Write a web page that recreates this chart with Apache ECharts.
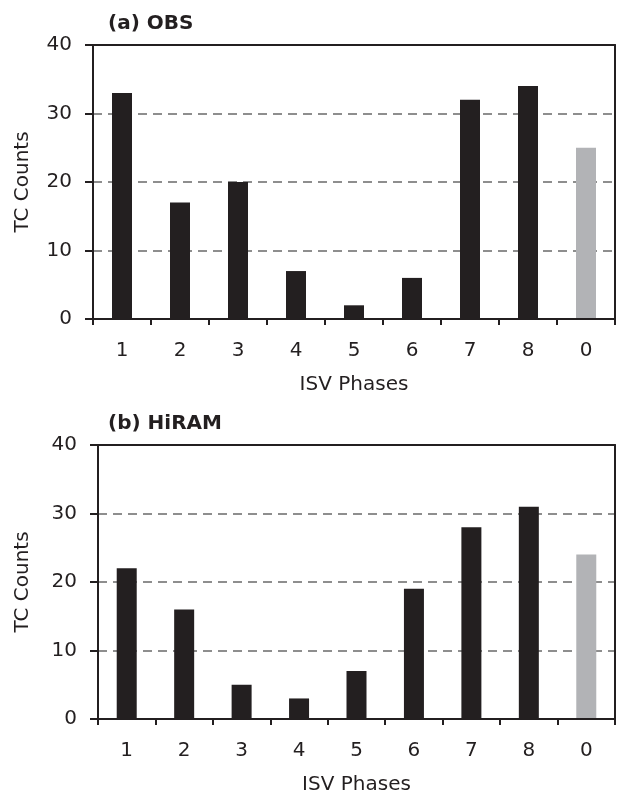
<!DOCTYPE html>
<html>
<head>
<meta charset="utf-8">
<script src="https://cdn.jsdelivr.net/npm/echarts@6/dist/echarts.min.js"></script>
<style>html,body{margin:0;padding:0;background:#fff}#c{width:620px;height:796px}</style>
</head>
<body>
<div id="c"></div>
<script>
var phases = ['1','2','3','4','5','6','7','8','0'];
var obsCounts = [33, 17, 20, 7, 2, 6, 32, 34, 25];
var hiramCounts = [22, 16, 5, 3, 7, 19, 28, 31, 24];
var yTicks = [0, 10, 20, 30, 40];
var titles = ['(a) OBS', '(b) HiRAM'];

var FONT = 'DejaVu Sans';
var BLACK = '#231f20';
var GRAY_BAR = '#b2b3b6';

function barData(vals) {
  return vals.map(function (v, i) {
    return { value: v, itemStyle: { color: phases[i] === '0' ? GRAY_BAR : BLACK } };
  });
}

var grids = [
  { left: 93, right: 5, top: 45, height: 274 },
  { left: 98, right: 5, top: 445, height: 274 }
];

function xAxisCfg(idx) {
  return {
    type: 'category', gridIndex: idx, data: phases, boundaryGap: true,
    name: 'ISV Phases', nameLocation: 'middle', nameGap: 56,
    nameTextStyle: { fontFamily: FONT, fontSize: 20, color: BLACK },
    axisLine: { onZero: false, lineStyle: { color: BLACK, width: 2 } },
    axisTick: { show: true, length: 6, lineStyle: { color: BLACK, width: 2 } },
    axisLabel: { fontFamily: FONT, fontSize: 20, color: BLACK, margin: 22 },
    splitLine: { show: false }, z: 5
  };
}
function xTopCfg(idx) {
  return {
    type: 'category', gridIndex: idx, data: phases, position: 'top',
    axisLine: { show: true, onZero: false, lineStyle: { color: BLACK, width: 2 } },
    axisTick: { show: false }, axisLabel: { show: false }, splitLine: { show: false }, z: 5
  };
}
function yAxisCfg(idx, gap) {
  return {
    type: 'value', gridIndex: idx, min: 0, max: 40, interval: 10,
    name: 'TC Counts', nameLocation: 'middle', nameGap: gap, nameRotate: 90,
    nameTextStyle: { fontFamily: FONT, fontSize: 20, color: BLACK },
    axisLine: { show: true, onZero: false, lineStyle: { color: BLACK, width: 2 } },
    axisTick: { show: true, length: 8, lineStyle: { color: BLACK, width: 2 } },
    axisLabel: { fontFamily: FONT, fontSize: 20, color: BLACK, margin: 21,
      formatter: function (v) { return yTicks.indexOf(v) >= 0 ? String(v) : ''; } },
    splitLine: { show: true, lineStyle: { color: '#8e8e8e', width: 2, type: [9, 6] } },
    z: 1
  };
}
function yRightCfg(idx) {
  return {
    type: 'value', gridIndex: idx, min: 0, max: 40, interval: 10, position: 'right',
    axisLine: { show: true, onZero: false, lineStyle: { color: BLACK, width: 2 } },
    axisTick: { show: false }, axisLabel: { show: false }, splitLine: { show: false }, z: 5
  };
}

var chart = echarts.init(document.getElementById('c'));
chart.setOption({
  backgroundColor: '#fff',
  animation: false,
  title: [
    { text: titles[0], left: 103, top: 9, textStyle: { fontFamily: FONT, fontSize: 20, fontWeight: 'bold', color: BLACK } },
    { text: titles[1], left: 103, top: 409, textStyle: { fontFamily: FONT, fontSize: 20, fontWeight: 'bold', color: BLACK } }
  ],
  grid: grids,
  xAxis: [xAxisCfg(0), xAxisCfg(1), xTopCfg(0), xTopCfg(1)],
  yAxis: [yAxisCfg(0, 60), yAxisCfg(1, 65), yRightCfg(0), yRightCfg(1)],
  series: [
    { type: 'bar', xAxisIndex: 0, yAxisIndex: 0, data: barData(obsCounts), barWidth: 20 },
    { type: 'bar', xAxisIndex: 1, yAxisIndex: 1, data: barData(hiramCounts), barWidth: 20 }
  ]
});
</script>
</body>
</html>
